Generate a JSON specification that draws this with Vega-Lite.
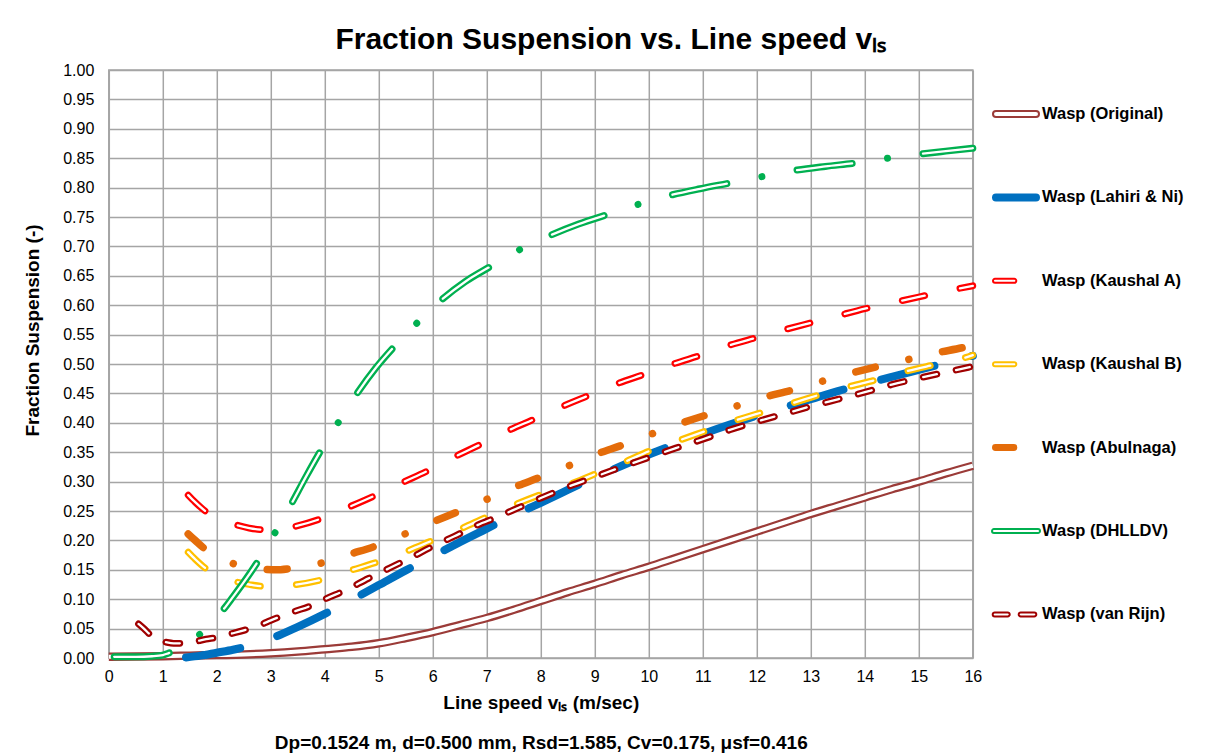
{
"$schema": "https://vega.github.io/schema/vega-lite/v6.json",
"autosize": {"type": "none"},
"padding": {"left": 108.8, "top": 70, "right": 239.2, "bottom": 98},
"width": 864,
"height": 588,
"background": "white",
"title": {"text": "Fraction Suspension vs. Line speed vₗₛ", "font": "Liberation Sans", "fontSize": 30, "fontWeight": "bold", "color": "#000000", "anchor": "middle", "dx": 70, "offset": 7},
"data": {"values": [
{"s":"Wasp (Original)","x":0,"y":0.002},{"s":"Wasp (Original)","x":1,"y":0.003},{"s":"Wasp (Original)","x":1.5,"y":0.004},{"s":"Wasp (Original)","x":2,"y":0.005},{"s":"Wasp (Original)","x":2.5,"y":0.006},{"s":"Wasp (Original)","x":3,"y":0.008},{"s":"Wasp (Original)","x":3.5,"y":0.011},{"s":"Wasp (Original)","x":4,"y":0.015},{"s":"Wasp (Original)","x":4.5,"y":0.019},{"s":"Wasp (Original)","x":5,"y":0.025},{"s":"Wasp (Original)","x":5.5,"y":0.034},{"s":"Wasp (Original)","x":6,"y":0.044},{"s":"Wasp (Original)","x":6.5,"y":0.056},{"s":"Wasp (Original)","x":7,"y":0.068},{"s":"Wasp (Original)","x":7.5,"y":0.082},{"s":"Wasp (Original)","x":8,"y":0.097},{"s":"Wasp (Original)","x":8.5,"y":0.112},{"s":"Wasp (Original)","x":9,"y":0.126},{"s":"Wasp (Original)","x":9.5,"y":0.141},{"s":"Wasp (Original)","x":10,"y":0.155},{"s":"Wasp (Original)","x":10.5,"y":0.17},{"s":"Wasp (Original)","x":11,"y":0.185},{"s":"Wasp (Original)","x":11.5,"y":0.2},{"s":"Wasp (Original)","x":12,"y":0.215},{"s":"Wasp (Original)","x":12.5,"y":0.23},{"s":"Wasp (Original)","x":13,"y":0.245},{"s":"Wasp (Original)","x":13.5,"y":0.259},{"s":"Wasp (Original)","x":14,"y":0.273},{"s":"Wasp (Original)","x":14.5,"y":0.287},{"s":"Wasp (Original)","x":15,"y":0.3},{"s":"Wasp (Original)","x":15.5,"y":0.314},{"s":"Wasp (Original)","x":16,"y":0.327},
{"s":"Wasp (Lahiri & Ni)","x":1.43,"y":0.001},{"s":"Wasp (Lahiri & Ni)","x":1.7,"y":0.004},{"s":"Wasp (Lahiri & Ni)","x":2,"y":0.009},{"s":"Wasp (Lahiri & Ni)","x":2.3,"y":0.014},{"s":"Wasp (Lahiri & Ni)","x":2.6,"y":0.021},{"s":"Wasp (Lahiri & Ni)","x":3,"y":0.033},{"s":"Wasp (Lahiri & Ni)","x":3.5,"y":0.053},{"s":"Wasp (Lahiri & Ni)","x":4,"y":0.075},{"s":"Wasp (Lahiri & Ni)","x":4.5,"y":0.099},{"s":"Wasp (Lahiri & Ni)","x":5,"y":0.124},{"s":"Wasp (Lahiri & Ni)","x":5.5,"y":0.149},{"s":"Wasp (Lahiri & Ni)","x":6,"y":0.173},{"s":"Wasp (Lahiri & Ni)","x":6.5,"y":0.197},{"s":"Wasp (Lahiri & Ni)","x":7,"y":0.22},{"s":"Wasp (Lahiri & Ni)","x":7.5,"y":0.243},{"s":"Wasp (Lahiri & Ni)","x":8,"y":0.264},{"s":"Wasp (Lahiri & Ni)","x":8.5,"y":0.286},{"s":"Wasp (Lahiri & Ni)","x":9,"y":0.307},{"s":"Wasp (Lahiri & Ni)","x":9.5,"y":0.327},{"s":"Wasp (Lahiri & Ni)","x":10,"y":0.346},{"s":"Wasp (Lahiri & Ni)","x":10.5,"y":0.364},{"s":"Wasp (Lahiri & Ni)","x":11,"y":0.381},{"s":"Wasp (Lahiri & Ni)","x":11.5,"y":0.397},{"s":"Wasp (Lahiri & Ni)","x":12,"y":0.412},{"s":"Wasp (Lahiri & Ni)","x":12.5,"y":0.426},{"s":"Wasp (Lahiri & Ni)","x":13,"y":0.44},{"s":"Wasp (Lahiri & Ni)","x":13.5,"y":0.454},{"s":"Wasp (Lahiri & Ni)","x":14,"y":0.466},{"s":"Wasp (Lahiri & Ni)","x":14.5,"y":0.478},{"s":"Wasp (Lahiri & Ni)","x":15,"y":0.49},{"s":"Wasp (Lahiri & Ni)","x":15.5,"y":0.502},{"s":"Wasp (Lahiri & Ni)","x":16,"y":0.514},
{"s":"Wasp (Kaushal A)","x":1.47,"y":0.277},{"s":"Wasp (Kaushal A)","x":1.6,"y":0.265},{"s":"Wasp (Kaushal A)","x":1.8,"y":0.249},{"s":"Wasp (Kaushal A)","x":2,"y":0.238},{"s":"Wasp (Kaushal A)","x":2.3,"y":0.228},{"s":"Wasp (Kaushal A)","x":2.6,"y":0.221},{"s":"Wasp (Kaushal A)","x":2.9,"y":0.218},{"s":"Wasp (Kaushal A)","x":3.2,"y":0.219},{"s":"Wasp (Kaushal A)","x":3.5,"y":0.225},{"s":"Wasp (Kaushal A)","x":3.9,"y":0.236},{"s":"Wasp (Kaushal A)","x":4.4,"y":0.255},{"s":"Wasp (Kaushal A)","x":4.9,"y":0.275},{"s":"Wasp (Kaushal A)","x":5.45,"y":0.299},{"s":"Wasp (Kaushal A)","x":5.9,"y":0.318},{"s":"Wasp (Kaushal A)","x":6.4,"y":0.342},{"s":"Wasp (Kaushal A)","x":6.9,"y":0.364},{"s":"Wasp (Kaushal A)","x":7.4,"y":0.387},{"s":"Wasp (Kaushal A)","x":7.9,"y":0.407},{"s":"Wasp (Kaushal A)","x":8.4,"y":0.428},{"s":"Wasp (Kaushal A)","x":8.9,"y":0.447},{"s":"Wasp (Kaushal A)","x":9.4,"y":0.466},{"s":"Wasp (Kaushal A)","x":9.9,"y":0.482},{"s":"Wasp (Kaushal A)","x":10.45,"y":0.5},{"s":"Wasp (Kaushal A)","x":11,"y":0.516},{"s":"Wasp (Kaushal A)","x":11.5,"y":0.532},{"s":"Wasp (Kaushal A)","x":12,"y":0.545},{"s":"Wasp (Kaushal A)","x":12.5,"y":0.558},{"s":"Wasp (Kaushal A)","x":13,"y":0.57},{"s":"Wasp (Kaushal A)","x":13.5,"y":0.582},{"s":"Wasp (Kaushal A)","x":14,"y":0.594},{"s":"Wasp (Kaushal A)","x":14.5,"y":0.604},{"s":"Wasp (Kaushal A)","x":15,"y":0.614},{"s":"Wasp (Kaushal A)","x":15.5,"y":0.624},{"s":"Wasp (Kaushal A)","x":16,"y":0.633},
{"s":"Wasp (Kaushal B)","x":1.47,"y":0.18},{"s":"Wasp (Kaushal B)","x":1.6,"y":0.168},{"s":"Wasp (Kaushal B)","x":1.8,"y":0.152},{"s":"Wasp (Kaushal B)","x":2,"y":0.141},{"s":"Wasp (Kaushal B)","x":2.3,"y":0.131},{"s":"Wasp (Kaushal B)","x":2.6,"y":0.125},{"s":"Wasp (Kaushal B)","x":2.86,"y":0.122},{"s":"Wasp (Kaushal B)","x":3.1,"y":0.122},{"s":"Wasp (Kaushal B)","x":3.4,"y":0.124},{"s":"Wasp (Kaushal B)","x":3.94,"y":0.133},{"s":"Wasp (Kaushal B)","x":4.48,"y":0.149},{"s":"Wasp (Kaushal B)","x":5,"y":0.164},{"s":"Wasp (Kaushal B)","x":5.5,"y":0.181},{"s":"Wasp (Kaushal B)","x":6,"y":0.2},{"s":"Wasp (Kaushal B)","x":6.5,"y":0.219},{"s":"Wasp (Kaushal B)","x":7,"y":0.24},{"s":"Wasp (Kaushal B)","x":7.5,"y":0.26},{"s":"Wasp (Kaushal B)","x":8,"y":0.278},{"s":"Wasp (Kaushal B)","x":8.55,"y":0.296},{"s":"Wasp (Kaushal B)","x":9.06,"y":0.315},{"s":"Wasp (Kaushal B)","x":9.59,"y":0.335},{"s":"Wasp (Kaushal B)","x":10.09,"y":0.355},{"s":"Wasp (Kaushal B)","x":10.62,"y":0.372},{"s":"Wasp (Kaushal B)","x":11.11,"y":0.388},{"s":"Wasp (Kaushal B)","x":11.64,"y":0.405},{"s":"Wasp (Kaushal B)","x":12.14,"y":0.419},{"s":"Wasp (Kaushal B)","x":12.68,"y":0.434},{"s":"Wasp (Kaushal B)","x":13.21,"y":0.449},{"s":"Wasp (Kaushal B)","x":13.73,"y":0.462},{"s":"Wasp (Kaushal B)","x":14.25,"y":0.474},{"s":"Wasp (Kaushal B)","x":14.78,"y":0.488},{"s":"Wasp (Kaushal B)","x":15.3,"y":0.499},{"s":"Wasp (Kaushal B)","x":15.83,"y":0.51},{"s":"Wasp (Kaushal B)","x":16,"y":0.515},
{"s":"Wasp (Abulnaga)","x":1.47,"y":0.211},{"s":"Wasp (Abulnaga)","x":1.6,"y":0.2},{"s":"Wasp (Abulnaga)","x":1.8,"y":0.184},{"s":"Wasp (Abulnaga)","x":2,"y":0.173},{"s":"Wasp (Abulnaga)","x":2.29,"y":0.161},{"s":"Wasp (Abulnaga)","x":2.6,"y":0.154},{"s":"Wasp (Abulnaga)","x":2.86,"y":0.151},{"s":"Wasp (Abulnaga)","x":3.1,"y":0.15},{"s":"Wasp (Abulnaga)","x":3.35,"y":0.152},{"s":"Wasp (Abulnaga)","x":3.92,"y":0.161},{"s":"Wasp (Abulnaga)","x":4.48,"y":0.177},{"s":"Wasp (Abulnaga)","x":4.96,"y":0.191},{"s":"Wasp (Abulnaga)","x":5.46,"y":0.21},{"s":"Wasp (Abulnaga)","x":5.99,"y":0.231},{"s":"Wasp (Abulnaga)","x":6.47,"y":0.249},{"s":"Wasp (Abulnaga)","x":6.98,"y":0.269},{"s":"Wasp (Abulnaga)","x":7.52,"y":0.291},{"s":"Wasp (Abulnaga)","x":7.98,"y":0.307},{"s":"Wasp (Abulnaga)","x":8.52,"y":0.327},{"s":"Wasp (Abulnaga)","x":9.04,"y":0.347},{"s":"Wasp (Abulnaga)","x":9.51,"y":0.362},{"s":"Wasp (Abulnaga)","x":10.05,"y":0.381},{"s":"Wasp (Abulnaga)","x":10.59,"y":0.399},{"s":"Wasp (Abulnaga)","x":11.06,"y":0.413},{"s":"Wasp (Abulnaga)","x":11.61,"y":0.428},{"s":"Wasp (Abulnaga)","x":12.16,"y":0.444},{"s":"Wasp (Abulnaga)","x":12.63,"y":0.455},{"s":"Wasp (Abulnaga)","x":13.19,"y":0.47},{"s":"Wasp (Abulnaga)","x":13.73,"y":0.484},{"s":"Wasp (Abulnaga)","x":14.21,"y":0.495},{"s":"Wasp (Abulnaga)","x":14.78,"y":0.507},{"s":"Wasp (Abulnaga)","x":15.33,"y":0.519},{"s":"Wasp (Abulnaga)","x":15.82,"y":0.528},{"s":"Wasp (Abulnaga)","x":16,"y":0.532},
{"s":"Wasp (DHLLDV)","x":0.1,"y":0.002},{"s":"Wasp (DHLLDV)","x":0.5,"y":0.002},{"s":"Wasp (DHLLDV)","x":0.8,"y":0.003},{"s":"Wasp (DHLLDV)","x":1,"y":0.005},{"s":"Wasp (DHLLDV)","x":1.1,"y":0.008},{"s":"Wasp (DHLLDV)","x":1.23,"y":0.0125},{"s":"Wasp (DHLLDV)","x":1.4,"y":0.022},{"s":"Wasp (DHLLDV)","x":1.6,"y":0.034},{"s":"Wasp (DHLLDV)","x":1.72,"y":0.043},{"s":"Wasp (DHLLDV)","x":1.9,"y":0.06},{"s":"Wasp (DHLLDV)","x":2.1,"y":0.08},{"s":"Wasp (DHLLDV)","x":2.3,"y":0.104},{"s":"Wasp (DHLLDV)","x":2.5,"y":0.129},{"s":"Wasp (DHLLDV)","x":2.78,"y":0.167},{"s":"Wasp (DHLLDV)","x":3.09,"y":0.215},{"s":"Wasp (DHLLDV)","x":3.38,"y":0.262},{"s":"Wasp (DHLLDV)","x":3.65,"y":0.308},{"s":"Wasp (DHLLDV)","x":3.94,"y":0.355},{"s":"Wasp (DHLLDV)","x":4.26,"y":0.402},{"s":"Wasp (DHLLDV)","x":4.59,"y":0.449},{"s":"Wasp (DHLLDV)","x":4.95,"y":0.494},{"s":"Wasp (DHLLDV)","x":5.3,"y":0.531},{"s":"Wasp (DHLLDV)","x":5.71,"y":0.57},{"s":"Wasp (DHLLDV)","x":6.16,"y":0.609},{"s":"Wasp (DHLLDV)","x":6.6,"y":0.64},{"s":"Wasp (DHLLDV)","x":7.09,"y":0.667},{"s":"Wasp (DHLLDV)","x":7.62,"y":0.695},{"s":"Wasp (DHLLDV)","x":8.18,"y":0.719},{"s":"Wasp (DHLLDV)","x":8.7,"y":0.738},{"s":"Wasp (DHLLDV)","x":9.26,"y":0.755},{"s":"Wasp (DHLLDV)","x":9.82,"y":0.772},{"s":"Wasp (DHLLDV)","x":10.4,"y":0.787},{"s":"Wasp (DHLLDV)","x":10.95,"y":0.798},{"s":"Wasp (DHLLDV)","x":11.51,"y":0.808},{"s":"Wasp (DHLLDV)","x":12.11,"y":0.819},{"s":"Wasp (DHLLDV)","x":12.69,"y":0.829},{"s":"Wasp (DHLLDV)","x":13.27,"y":0.836},{"s":"Wasp (DHLLDV)","x":13.85,"y":0.842},{"s":"Wasp (DHLLDV)","x":14.43,"y":0.85},{"s":"Wasp (DHLLDV)","x":15.02,"y":0.857},{"s":"Wasp (DHLLDV)","x":15.5,"y":0.862},{"s":"Wasp (DHLLDV)","x":16,"y":0.867},
{"s":"Wasp (van Rijn)","x":0.55,"y":0.058},{"s":"Wasp (van Rijn)","x":0.65,"y":0.05},{"s":"Wasp (van Rijn)","x":0.75,"y":0.041},{"s":"Wasp (van Rijn)","x":0.85,"y":0.034},{"s":"Wasp (van Rijn)","x":0.95,"y":0.029},{"s":"Wasp (van Rijn)","x":1.05,"y":0.027},{"s":"Wasp (van Rijn)","x":1.2,"y":0.025},{"s":"Wasp (van Rijn)","x":1.4,"y":0.025},{"s":"Wasp (van Rijn)","x":1.6,"y":0.028},{"s":"Wasp (van Rijn)","x":1.8,"y":0.032},{"s":"Wasp (van Rijn)","x":2,"y":0.035},{"s":"Wasp (van Rijn)","x":2.25,"y":0.041},{"s":"Wasp (van Rijn)","x":2.5,"y":0.047},{"s":"Wasp (van Rijn)","x":2.8,"y":0.056},{"s":"Wasp (van Rijn)","x":3,"y":0.064},{"s":"Wasp (van Rijn)","x":3.4,"y":0.078},{"s":"Wasp (van Rijn)","x":3.8,"y":0.091},{"s":"Wasp (van Rijn)","x":4,"y":0.1},{"s":"Wasp (van Rijn)","x":4.4,"y":0.116},{"s":"Wasp (van Rijn)","x":4.8,"y":0.135},{"s":"Wasp (van Rijn)","x":5.2,"y":0.153},{"s":"Wasp (van Rijn)","x":5.6,"y":0.171},{"s":"Wasp (van Rijn)","x":6,"y":0.19},{"s":"Wasp (van Rijn)","x":6.4,"y":0.207},{"s":"Wasp (van Rijn)","x":6.8,"y":0.225},{"s":"Wasp (van Rijn)","x":7.2,"y":0.24},{"s":"Wasp (van Rijn)","x":7.6,"y":0.256},{"s":"Wasp (van Rijn)","x":8,"y":0.272},{"s":"Wasp (van Rijn)","x":8.5,"y":0.291},{"s":"Wasp (van Rijn)","x":9,"y":0.308},{"s":"Wasp (van Rijn)","x":9.5,"y":0.325},{"s":"Wasp (van Rijn)","x":10,"y":0.341},{"s":"Wasp (van Rijn)","x":10.5,"y":0.357},{"s":"Wasp (van Rijn)","x":11,"y":0.372},{"s":"Wasp (van Rijn)","x":11.5,"y":0.388},{"s":"Wasp (van Rijn)","x":12,"y":0.402},{"s":"Wasp (van Rijn)","x":12.5,"y":0.415},{"s":"Wasp (van Rijn)","x":13,"y":0.428},{"s":"Wasp (van Rijn)","x":13.5,"y":0.44},{"s":"Wasp (van Rijn)","x":14,"y":0.452},{"s":"Wasp (van Rijn)","x":14.5,"y":0.465},{"s":"Wasp (van Rijn)","x":15,"y":0.476},{"s":"Wasp (van Rijn)","x":15.5,"y":0.486},{"s":"Wasp (van Rijn)","x":16,"y":0.496}
]},
"encoding": {
  "x": {"field": "x", "type": "quantitative", "scale": {"domain": [0, 16], "nice": false, "zero": false},
        "axis": {"values": [0,1,2,3,4,5,6,7,8,9,10,11,12,13,14,15,16], "labelPadding": 10, "labelFlush": false, "labelOverlap": false,
                 "title": ["Line speed vₗₛ (m/sec)", "Dp=0.1524 m, d=0.500 mm, Rsd=1.585, Cv=0.175, μsf=0.416"], "titleLineHeight": 40, "titlePadding": 9}},
  "y": {"field": "y", "type": "quantitative", "scale": {"domain": [0, 1], "nice": false},
        "axis": {"values": [0,0.05,0.1,0.15,0.2,0.25,0.3,0.35,0.4,0.45,0.5,0.55,0.6,0.65,0.7,0.75,0.8,0.85,0.9,0.95,1], "format": ".2f", "labelPadding": 15, "labelFlush": false, "labelOverlap": false,
                 "title": "Fraction Suspension (-)", "titleX": -76.8, "titleY": 260, "titleAlign": "center", "titleBaseline": "middle", "titleAngle": -90}}
},
"layer": [
  {"transform": [{"filter": "datum.s == 'Wasp (Original)'"}], "mark": {"type": "line", "interpolate": "monotone", "color": "#9b3b38", "strokeWidth": 8.5, "strokeCap": "butt"}, "encoding": {}},
  {"transform": [{"filter": "datum.s == 'Wasp (Original)'"}], "mark": {"type": "line", "interpolate": "monotone", "color": "#ffffff", "strokeWidth": 4, "strokeCap": "butt"}, "encoding": {}},
  {"transform": [{"filter": "datum.s == 'Wasp (Lahiri & Ni)'"}], "mark": {"type": "line", "interpolate": "monotone", "color": "#0070c0", "strokeWidth": 8, "strokeCap": "round", "strokeDash": [55, 39]}, "encoding": {}},
  {"transform": [{"filter": "datum.s == 'Wasp (Kaushal A)'"}], "mark": {"type": "line", "interpolate": "monotone", "color": "#ff0000", "strokeWidth": 6.8, "strokeCap": "round", "strokeDash": [23, 36]}, "encoding": {}},
  {"transform": [{"filter": "datum.s == 'Wasp (Kaushal A)'"}], "mark": {"type": "line", "interpolate": "monotone", "color": "#ffffff", "strokeWidth": 2.3, "strokeCap": "round", "strokeDash": [23, 36]}, "encoding": {}},
  {"transform": [{"filter": "datum.s == 'Wasp (Kaushal B)'"}], "mark": {"type": "line", "interpolate": "monotone", "color": "#ffc000", "strokeWidth": 6.8, "strokeCap": "round", "strokeDash": [23, 36]}, "encoding": {}},
  {"transform": [{"filter": "datum.s == 'Wasp (Kaushal B)'"}], "mark": {"type": "line", "interpolate": "monotone", "color": "#ffffff", "strokeWidth": 2.3, "strokeCap": "round", "strokeDash": [23, 36]}, "encoding": {}},
  {"transform": [{"filter": "datum.s == 'Wasp (Abulnaga)'"}], "mark": {"type": "line", "interpolate": "monotone", "color": "#e46c0a", "strokeWidth": 7.5, "strokeCap": "round", "strokeDash": [20, 34.5, 0.01, 34.5]}, "encoding": {}},
  {"transform": [{"filter": "datum.s == 'Wasp (DHLLDV)'"}], "mark": {"type": "line", "interpolate": "monotone", "color": "#00b050", "strokeWidth": 7, "strokeCap": "round", "strokeDash": [55.5, 35.75, 0.01, 35.75]}, "encoding": {}},
  {"transform": [{"filter": "datum.s == 'Wasp (DHLLDV)'"}], "mark": {"type": "line", "interpolate": "monotone", "color": "#ffffff", "strokeWidth": 2.3, "strokeCap": "round", "strokeDash": [55.5, 71.51]}, "encoding": {}},
  {"transform": [{"filter": "datum.s == 'Wasp (van Rijn)'"}], "mark": {"type": "line", "interpolate": "monotone", "color": "#a00000", "strokeWidth": 6.8, "strokeCap": "round", "strokeDash": [14, 19.6]}, "encoding": {}},
  {"transform": [{"filter": "datum.s == 'Wasp (van Rijn)'"}], "mark": {"type": "line", "interpolate": "monotone", "color": "#ffffff", "strokeWidth": 2.3, "strokeCap": "round", "strokeDash": [14, 19.6]}, "encoding": {}},
  {"transform": [{"filter": "false"}], "mark": {"type": "point", "opacity": 1, "filled": false},
   "encoding": {
     "stroke": {"field": "s", "type": "nominal",
        "scale": {"domain": ["Wasp (Original)", "Wasp (Lahiri & Ni)", "Wasp (Kaushal A)", "Wasp (Kaushal B)", "Wasp (Abulnaga)", "Wasp (DHLLDV)", "Wasp (van Rijn)"],
                  "range": ["#9b3b38", "#0070c0", "#ff0000", "#ffc000", "#e46c0a", "#00b050", "#a00000"]},
        "legend": {"orient": "none", "legendX": 882.2, "legendY": 19, "title": null, "symbolSize": 2304, "symbolStrokeWidth": 2,
                   "labelFont": "Liberation Sans", "labelFontSize": 16.5, "labelFontWeight": "bold", "labelColor": "#000000", "labelOffset": 1,
                   "rowPadding": 49.4, "padding": 0, "labelLimit": 300,
                   "encode": {"symbols": {"update": {"fill": {"scale": "fill", "field": "value"}, "stroke": {"scale": "stroke", "field": "value"}, "shape": {"scale": "shape", "field": "value"}, "strokeWidth": {"value": 2.2}, "opacity": {"value": 1}}}}}},
     "fill": {"field": "s", "type": "nominal",
        "scale": {"domain": ["Wasp (Original)", "Wasp (Lahiri & Ni)", "Wasp (Kaushal A)", "Wasp (Kaushal B)", "Wasp (Abulnaga)", "Wasp (DHLLDV)", "Wasp (van Rijn)"],
                  "range": ["#ffffff", "#0070c0", "#ffffff", "#ffffff", "#e46c0a", "#ffffff", "#ffffff"]}},
     "shape": {"field": "s", "type": "nominal",
        "scale": {"domain": ["Wasp (Original)", "Wasp (Lahiri & Ni)", "Wasp (Kaushal A)", "Wasp (Kaushal B)", "Wasp (Abulnaga)", "Wasp (DHLLDV)", "Wasp (van Rijn)"],
                  "range": [
                    "M-0.8333,-0.125H0.8333A0.125,0.125 0 0 1 0.8333,0.125H-0.8333A0.125,0.125 0 0 1 -0.8333,-0.125Z",
                    "M-0.8333,-0.125H0.8333A0.125,0.125 0 0 1 0.8333,0.125H-0.8333A0.125,0.125 0 0 1 -0.8333,-0.125Z",
                    "M-0.875,-0.0833H-0.0708A0.0833,0.0833 0 0 1 -0.0708,0.0833H-0.875A0.0833,0.0833 0 0 1 -0.875,-0.0833Z",
                    "M-0.875,-0.0833H-0.0708A0.0833,0.0833 0 0 1 -0.0708,0.0833H-0.875A0.0833,0.0833 0 0 1 -0.875,-0.0833Z",
                    "M-0.854,-0.104H-0.0917A0.104,0.104 0 0 1 -0.0917,0.104H-0.854A0.104,0.104 0 0 1 -0.854,-0.104Z",
                    "M-0.9167,-0.0833H0.9167A0.0833,0.0833 0 0 1 0.9167,0.0833H-0.9167A0.0833,0.0833 0 0 1 -0.9167,-0.0833Z",
                    "M-0.8875,-0.0833H-0.3458A0.0833,0.0833 0 0 1 -0.3458,0.0833H-0.8875A0.0833,0.0833 0 0 1 -0.8875,-0.0833ZM0.1958,-0.0833H0.7625A0.0833,0.0833 0 0 1 0.7625,0.0833H0.1958A0.0833,0.0833 0 0 1 0.1958,-0.0833Z"
                  ]}}
   }}
],
"config": {
  "font": "Liberation Sans",
  "view": {"stroke": "#a5a5a5", "strokeWidth": 1.5},
  "axis": {"grid": true, "gridColor": "#a5a5a5", "gridWidth": 1.5, "gridOpacity": 1, "domain": false, "ticks": false, "tickSize": 0,
           "labelFont": "Liberation Sans", "labelFontSize": 16, "labelColor": "#000000",
           "titleFont": "Liberation Sans", "titleFontSize": 19, "titleFontWeight": "bold", "titleColor": "#000000"}
}
}
